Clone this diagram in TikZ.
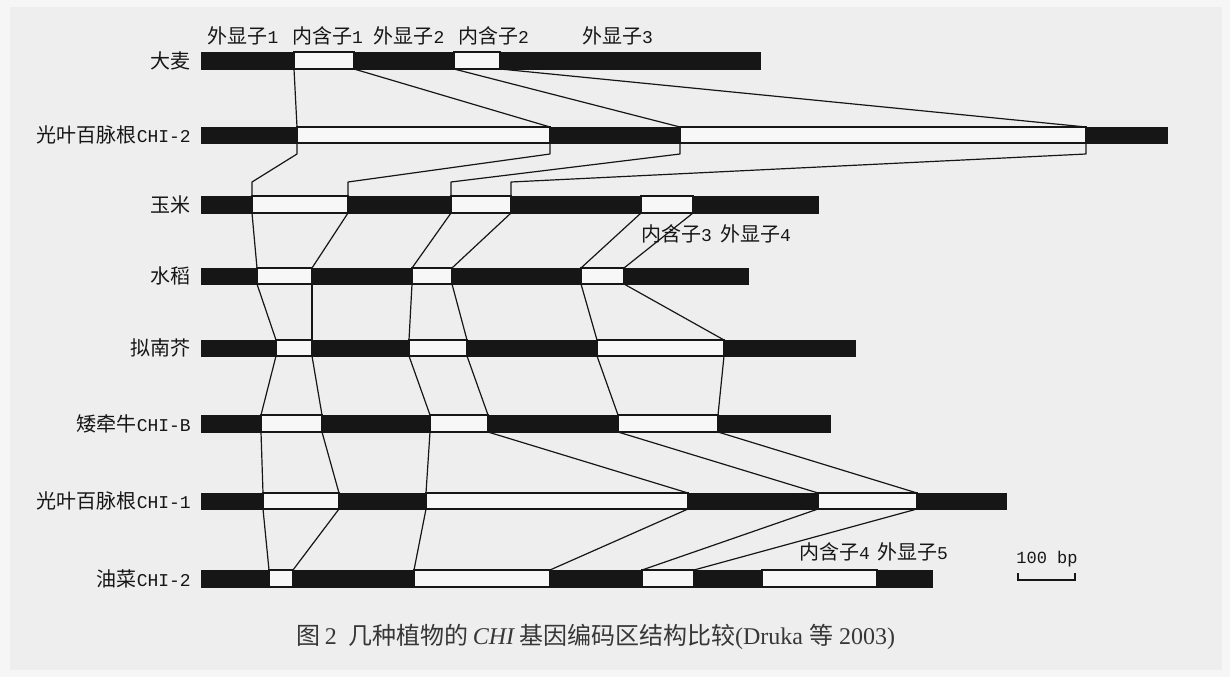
\documentclass[tikz,border=0pt]{standalone}
\usepackage{fontspec}
\setmainfont{Liberation Serif}
\newfontfamily\cjk{Noto Sans CJK SC}
\newfontfamily\lmono{Liberation Mono}
\usetikzlibrary{calc}
\definecolor{bgout}{RGB}{246,246,246}
\definecolor{bgin}{RGB}{238,238,238}
\definecolor{ink}{RGB}{22,22,22}
\definecolor{capink}{RGB}{55,55,55}
\newcommand\lat[1]{{\lmono\fontsize{18}{20}\selectfont #1}}
\newcommand\generow[4]{%
  \foreach \xx [count=\ii from 0] in {#4} {
    \coordinate (#1-\ii-t) at (\xx,#2);
    \coordinate (#1-\ii-b) at (\xx,#3);
  }}
\newcommand\drawbar[3]{%
  \path[exonbox] (#1-0-t) rectangle (#1-#2-b);
  \foreach \jj in {#3} {
    \pgfmathtruncatemacro\kk{\jj+1}
    \path[intronbox] (#1-\jj-t) rectangle (#1-\kk-b);
  }}
\tikzset{
  exonbox/.style={fill=ink, draw=ink, line width=0.6pt},
  intronbox/.style={fill=white!97!black, draw=ink, line width=1.3pt},
  conn/.style={draw=ink, line width=1.2pt, line join=round},
  lbl/.style={font=\cjk\fontsize{20}{22}\selectfont, text=ink, anchor=east, inner sep=0pt},
  tag/.style={font=\cjk\fontsize{20}{22}\selectfont, text=ink, inner sep=0pt},
}
\begin{document}
\begin{tikzpicture}[x=1pt,y=-1pt]
\useasboundingbox (0,0) rectangle (1230,677);
\fill[bgout] (0,0) rectangle (1230,677);
\fill[bgin] (10,7) rectangle (1222,670);

% boundaries of each gene row
\generow{r1}{52}{69}{201,294,354,454,500,760}
\generow{r2}{127}{143}{201,297,550,680,1086,1167}
\generow{r3}{196}{213}{201,252,348,451,511,641,693,818}
\generow{r4}{268}{284}{201,257,312,412,452,581,624,748}
\generow{r5}{340}{356}{201,276,312,409,467,597,724,855}
\generow{r6}{415}{432}{201,261,322,430,488,618,718,830}
\generow{r7}{493}{509}{201,263,339,426,688,818,917,1006}
\generow{r8}{570}{587}{201,269,293,414,550,642,694,762,877,932}

% connectors
\foreach \i in {1,...,4} { \draw[conn] (r1-\i-b) -- (r2-\i-t); }
\foreach \i in {1,...,4} { \draw[conn] (r2-\i-b) -- ++(0,11) -- ($(r3-\i-t)+(0,-14)$) -- (r3-\i-t); }
\foreach \i in {1,...,6} { \draw[conn] (r3-\i-b) -- (r4-\i-t); }
\foreach \i in {1,...,6} { \draw[conn] (r4-\i-b) -- (r5-\i-t); }
\foreach \i in {1,...,6} { \draw[conn] (r5-\i-b) -- (r6-\i-t); }
\foreach \i in {1,...,6} { \draw[conn] (r6-\i-b) -- (r7-\i-t); }
\foreach \i in {1,...,6} { \draw[conn] (r7-\i-b) -- (r8-\i-t); }

% bars
\drawbar{r1}{5}{1,3}
\drawbar{r2}{5}{1,3}
\drawbar{r3}{7}{1,3,5}
\drawbar{r4}{7}{1,3,5}
\drawbar{r5}{7}{1,3,5}
\drawbar{r6}{7}{1,3,5}
\drawbar{r7}{7}{1,3,5}
\drawbar{r8}{9}{1,3,5,7}

% row labels
\node[lbl] (l1) at (191,60.5) {大麦};
\node[lbl] (l2) at (191,135) {光叶百脉根\lat{CHI-2}};
\node[lbl] (l3) at (191,204.5) {玉米};
\node[lbl] (l4) at (191,276) {水稻};
\node[lbl] (l5) at (191,348) {拟南芥};
\node[lbl] (l6) at (191,423.5) {矮牵牛\lat{CHI-B}};
\node[lbl] (l7) at (191,501) {光叶百脉根\lat{CHI-1}};
\node[lbl] (l8) at (191,578.5) {油菜\lat{CHI-2}};

% segment labels
\node[tag] (t1) at (243,36) {外显子\lat{1}};
\node[tag] (t2) at (327.5,36) {内含子\lat{1}};
\node[tag] (t3) at (409,36) {外显子\lat{2}};
\node[tag] (t4) at (493.5,36) {内含子\lat{2}};
\node[tag] (t5) at (617.5,36) {外显子\lat{3}};
\node[tag] (t6) at (676.5,234) {内含子\lat{3}};
\node[tag] (t7) at (755.5,234) {外显子\lat{4}};
\node[tag] (t8) at (834.5,552) {内含子\lat{4}};
\node[tag] (t9) at (912.5,552) {外显子\lat{5}};

% scale bar
\node[inner sep=0pt, text=ink, font=\lmono\fontsize{17}{20}\selectfont] (sb) at (1047,559) {100 bp};
\coordinate (sbl) at (1018,573);
\coordinate (sbr) at (1075,573);
\draw[ink, line width=1.2pt] (sbl) -- ++(0,7) -| (sbr);

% caption
\node[inner sep=0pt, text=capink, font=\fontsize{24}{27}\selectfont] (cap) at (596,637)
  {{\cjk 图}\,2\enspace{\cjk 几种植物的}\,\textit{CHI}\,{\cjk 基因编码区结构比较}(Druka {\cjk 等} 2003)};
\end{tikzpicture}
\end{document}
